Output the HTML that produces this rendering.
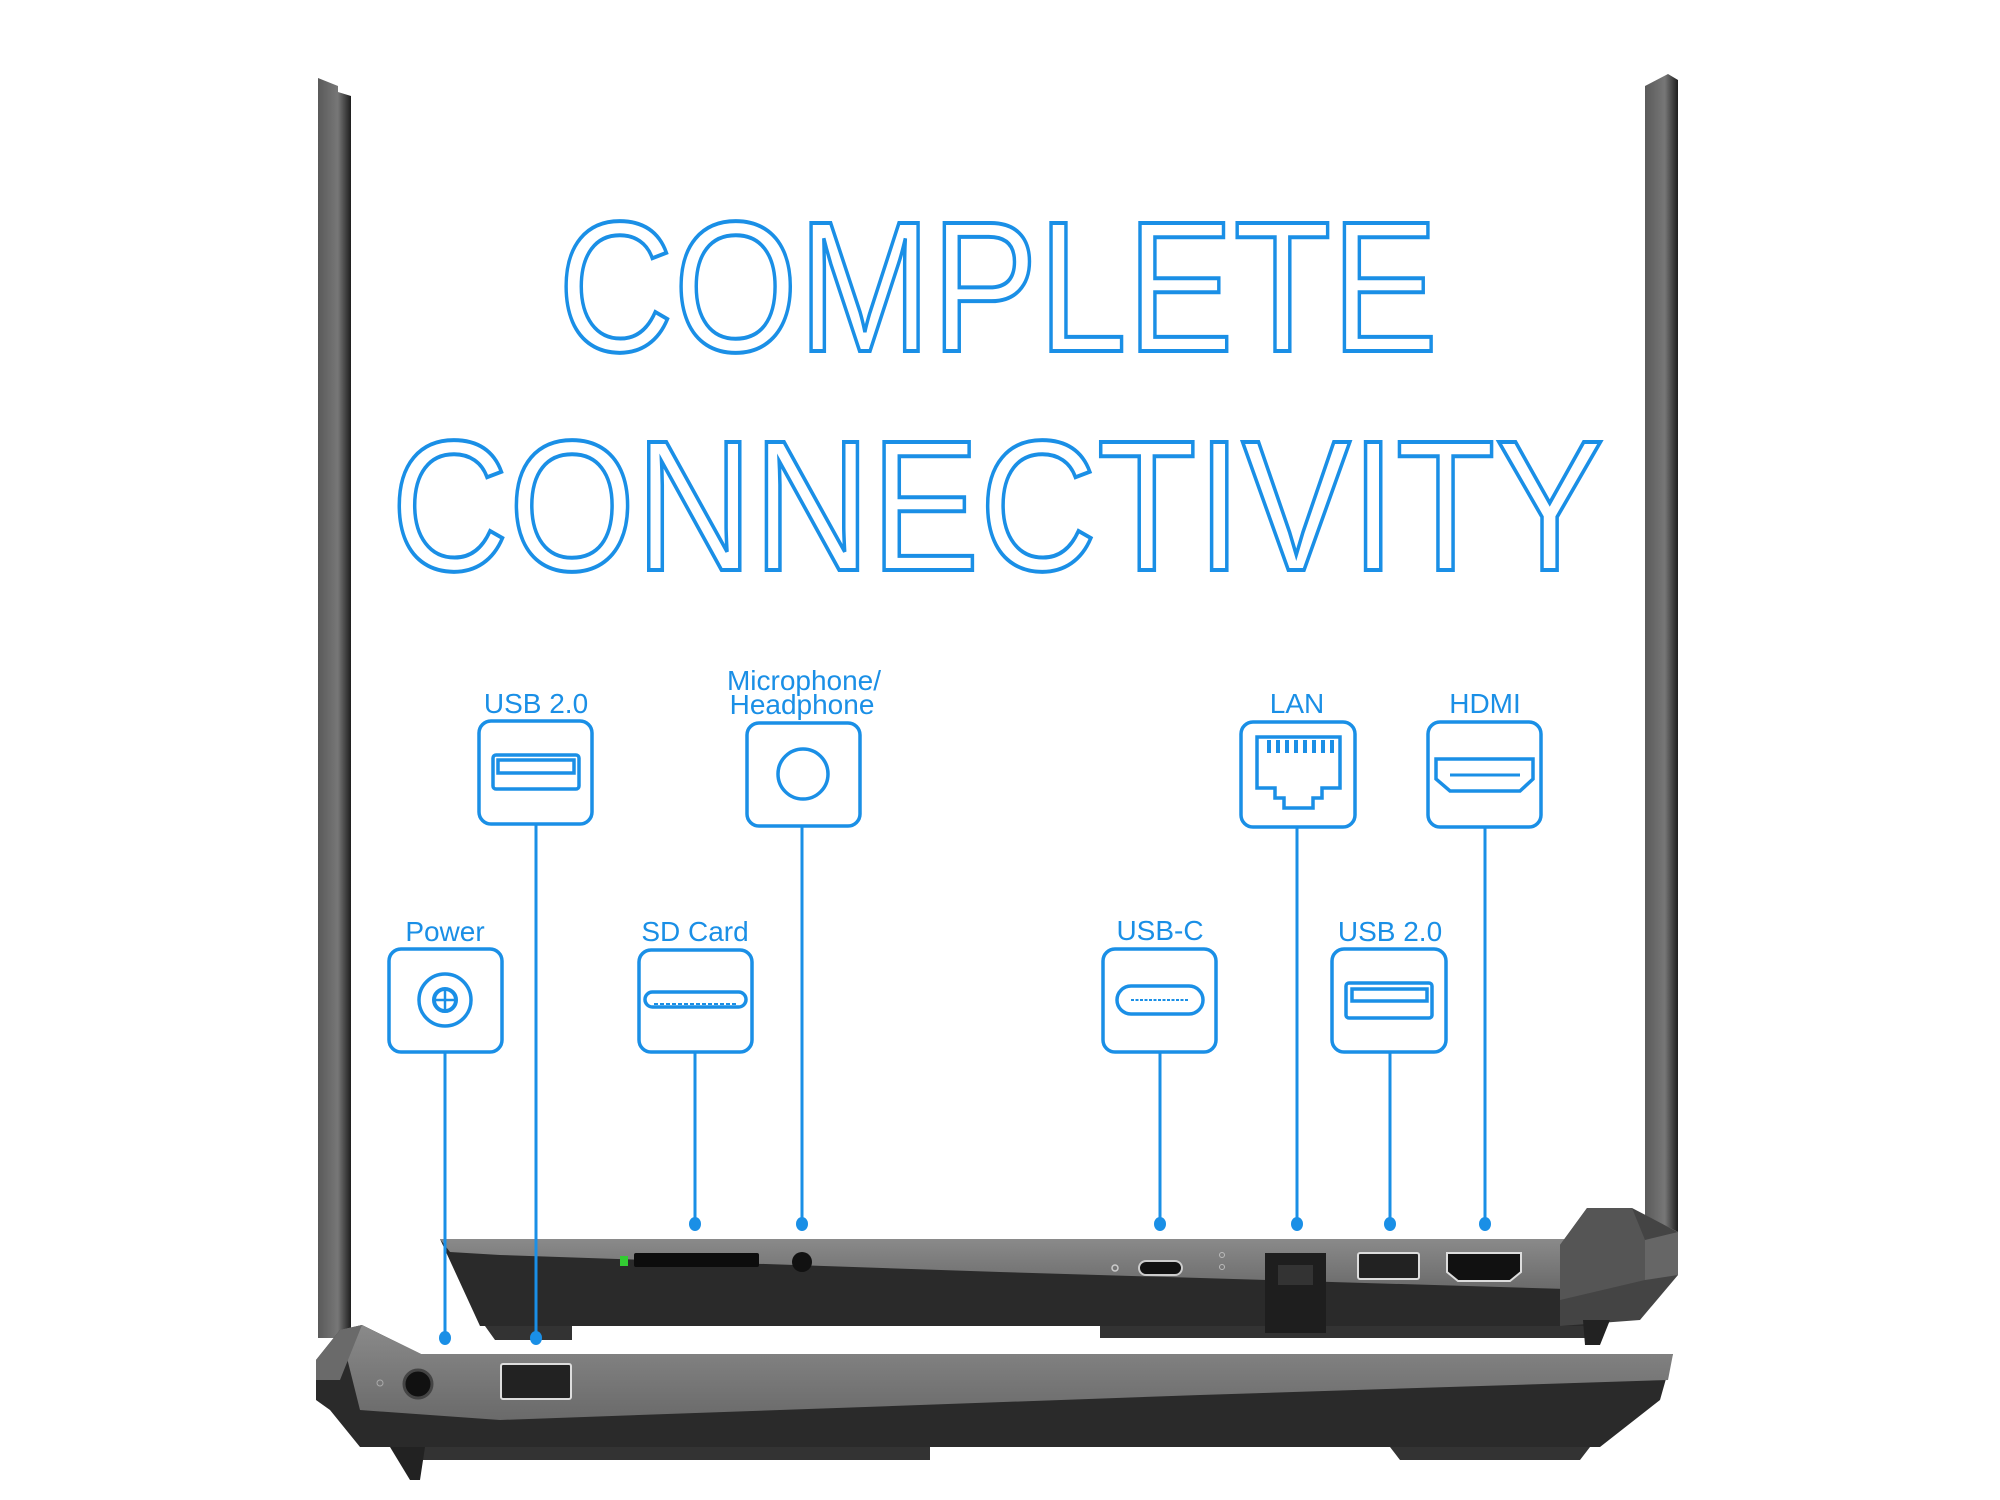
<!DOCTYPE html>
<html><head><meta charset="utf-8"><style>
html,body{margin:0;padding:0;background:#fff;}
svg{display:block;}
.lb{font-family:"Liberation Sans",sans-serif;font-size:28px;fill:#1a8fe6;text-anchor:middle;}
.bx{fill:#fff;stroke:#1a8fe6;stroke-width:3.5;}
.ic{fill:none;stroke:#1a8fe6;stroke-width:3.5;}
.ln{stroke:#1a8fe6;stroke-width:3;}
</style></head><body>
<svg width="2000" height="1500" viewBox="0 0 2000 1500" xmlns="http://www.w3.org/2000/svg">
<defs>
<linearGradient id="bz" x1="0" x2="1"><stop offset="0" stop-color="#5a5a5a"/><stop offset="0.6" stop-color="#777"/><stop offset="1" stop-color="#1e1e1e"/></linearGradient>
<linearGradient id="top" x1="0" y1="0" x2="0" y2="1"><stop offset="0" stop-color="#8a8a8a"/><stop offset="1" stop-color="#6a6a6a"/></linearGradient>
</defs>

<!-- bezels -->
<polygon points="318,78 338,86 338,92 351,96 351,1338 318,1338" fill="url(#bz)"/>
<polygon points="1645,86 1668,74 1678,80 1678,1232 1645,1215" fill="url(#bz)"/>

<!-- title -->
<text x="558" y="351" textLength="880" lengthAdjust="spacingAndGlyphs" font-family="Liberation Sans Narrow, Liberation Sans, sans-serif" font-size="186" fill="none" stroke="#1a8fe6" stroke-width="4">COMPLETE</text>
<text x="391" y="570" textLength="1213" lengthAdjust="spacingAndGlyphs" font-family="Liberation Sans Narrow, Liberation Sans, sans-serif" font-size="186" fill="none" stroke="#1a8fe6" stroke-width="4">CONNECTIVITY</text>

<!-- upper laptop body -->
<polygon points="440,1239 1590,1239 1590,1326 480,1326" fill="#2a2a2a"/>
<polygon points="440,1239 1600,1239 1600,1290 1000,1272 500,1255 450,1252" fill="url(#top)"/>
<polygon points="485,1326 572,1326 572,1340 495,1340" fill="#333"/>
<polygon points="1100,1326 1590,1326 1590,1338 1100,1338" fill="#333"/>
<polygon points="1560,1245 1587,1208 1632,1208 1678,1232 1678,1275 1640,1320 1560,1326" fill="#444"/>
<polygon points="1560,1245 1587,1208 1632,1208 1645,1240 1645,1280 1560,1300" fill="#555"/>
<polygon points="1645,1240 1678,1232 1678,1275 1645,1280" fill="#666"/>
<polygon points="1583,1320 1610,1320 1600,1345 1585,1345" fill="#222"/>
<!-- upper ports -->
<rect x="620" y="1256" width="8" height="10" fill="#3c3"/>
<rect x="634" y="1253" width="125" height="14" rx="2" fill="#0d0d0d"/>
<circle cx="802" cy="1262" r="10" fill="#111"/>
<circle cx="1115" cy="1268" r="3" fill="none" stroke="#ccc" stroke-width="1.5"/>
<rect x="1139" y="1261" width="43" height="14" rx="7" fill="#111" stroke="#ccc" stroke-width="2"/>
<circle cx="1222" cy="1255" r="2.5" fill="none" stroke="#bbb"/><circle cx="1222" cy="1267" r="2.5" fill="none" stroke="#bbb"/>
<rect x="1265" y="1253" width="61" height="80" fill="#1e1e1e"/>
<rect x="1278" y="1265" width="35" height="20" fill="#333"/>
<rect x="1358" y="1253" width="61" height="26" rx="2" fill="#222" stroke="#ddd" stroke-width="2"/>
<polygon points="1447,1253 1521,1253 1521,1272 1510,1281 1458,1281 1447,1272" fill="#111" stroke="#ddd" stroke-width="2"/>

<!-- lower laptop body -->
<polygon points="316,1360 340,1330 362,1325 421,1354 1673,1354 1660,1400 1600,1447 360,1447 330,1410 316,1400" fill="#2a2a2a"/>
<polygon points="421,1354 1673,1354 1668,1380 1200,1395 500,1420 360,1410 340,1330 362,1325" fill="url(#top)"/>
<polygon points="316,1360 340,1330 362,1325 340,1380 316,1380" fill="#6a6a6a"/>
<polygon points="400,1447 930,1447 930,1460 400,1460" fill="#333"/>
<polygon points="1390,1447 1590,1447 1580,1460 1400,1460" fill="#333"/>
<polygon points="390,1447 425,1447 420,1480 410,1480" fill="#222"/>
<circle cx="380" cy="1383" r="3" fill="none" stroke="#aaa"/>
<circle cx="418" cy="1384" r="14" fill="#111" stroke="#444" stroke-width="3"/>
<rect x="501" y="1364" width="70" height="35" rx="2" fill="#222" stroke="#ddd" stroke-width="2"/>

<!-- connector lines & dots -->
<g class="ln">
<line x1="445" y1="1052" x2="445" y2="1338"/>
<line x1="536" y1="824" x2="536" y2="1338"/>
<line x1="695" y1="1052" x2="695" y2="1224"/>
<line x1="802" y1="826" x2="802" y2="1224"/>
<line x1="1160" y1="1052" x2="1160" y2="1224"/>
<line x1="1297" y1="827" x2="1297" y2="1224"/>
<line x1="1390" y1="1052" x2="1390" y2="1224"/>
<line x1="1485" y1="827" x2="1485" y2="1224"/>
</g>
<g fill="#1a8fe6">
<ellipse cx="445" cy="1338" rx="6" ry="7"/><ellipse cx="536" cy="1338" rx="6" ry="7"/>
<ellipse cx="695" cy="1224" rx="6" ry="7"/><ellipse cx="802" cy="1224" rx="6" ry="7"/>
<ellipse cx="1160" cy="1224" rx="6" ry="7"/><ellipse cx="1297" cy="1224" rx="6" ry="7"/>
<ellipse cx="1390" cy="1224" rx="6" ry="7"/><ellipse cx="1485" cy="1224" rx="6" ry="7"/>
</g>

<!-- boxes -->
<rect class="bx" x="479" y="721" width="113" height="103" rx="12"/>
<rect class="bx" x="747" y="723" width="113" height="103" rx="12"/>
<rect class="bx" x="389" y="949" width="113" height="103" rx="12"/>
<rect class="bx" x="639" y="950" width="113" height="102" rx="12"/>
<rect class="bx" x="1103" y="949" width="113" height="103" rx="12"/>
<rect class="bx" x="1241" y="722" width="114" height="105" rx="12"/>
<rect class="bx" x="1332" y="949" width="114" height="103" rx="12"/>
<rect class="bx" x="1428" y="722" width="113" height="105" rx="12"/>

<!-- icons -->
<rect class="ic" x="493" y="755" width="86" height="34" rx="3"/>
<rect class="ic" x="498" y="760" width="76" height="13"/>
<circle class="ic" cx="803" cy="774" r="25"/>
<circle class="ic" cx="445" cy="1000" r="26"/>
<circle cx="445" cy="1000" r="11" fill="none" stroke="#1a8fe6" stroke-width="4"/>
<line x1="445" y1="990" x2="445" y2="1010" stroke="#1a8fe6" stroke-width="2.5"/>
<line x1="435" y1="1000" x2="455" y2="1000" stroke="#1a8fe6" stroke-width="2.5"/>
<rect class="ic" x="645" y="992" width="101" height="15" rx="7.5"/>
<line x1="654" y1="1004" x2="737" y2="1004" stroke="#1a8fe6" stroke-width="2" stroke-dasharray="4 2"/>
<rect class="ic" x="1117" y="986" width="86" height="28" rx="14"/>
<line x1="1131" y1="1000" x2="1189" y2="1000" stroke="#1a8fe6" stroke-width="2" stroke-dasharray="3 1.5"/>
<rect class="ic" x="1346" y="983" width="86" height="35" rx="3"/>
<rect class="ic" x="1352" y="989" width="75" height="12"/>
<polygon class="ic" points="1257,737 1340,737 1340,788 1322,788 1322,798 1313,798 1313,808 1284,808 1284,798 1275,798 1275,788 1257,788"/>
<g fill="#1a8fe6"><rect x="1267" y="740" width="4" height="13"/><rect x="1276" y="740" width="4" height="13"/><rect x="1285" y="740" width="4" height="13"/><rect x="1294" y="740" width="4" height="13"/><rect x="1303" y="740" width="4" height="13"/><rect x="1312" y="740" width="4" height="13"/><rect x="1321" y="740" width="4" height="13"/><rect x="1330" y="740" width="4" height="13"/></g>
<polygon class="ic" points="1436,759 1533,759 1533,779 1520,791 1450,791 1436,779"/>
<line x1="1450" y1="775" x2="1520" y2="775" stroke="#1a8fe6" stroke-width="3"/>

<!-- labels -->
<text class="lb" x="536" y="713">USB 2.0</text>
<text class="lb" x="804" y="690">Microphone/</text>
<text class="lb" x="802" y="714">Headphone</text>
<text class="lb" x="445" y="941">Power</text>
<text class="lb" x="695" y="941">SD Card</text>
<text class="lb" x="1160" y="940">USB-C</text>
<text class="lb" x="1297" y="713">LAN</text>
<text class="lb" x="1485" y="713">HDMI</text>
<text class="lb" x="1390" y="941">USB 2.0</text>
</svg>
</body></html>
